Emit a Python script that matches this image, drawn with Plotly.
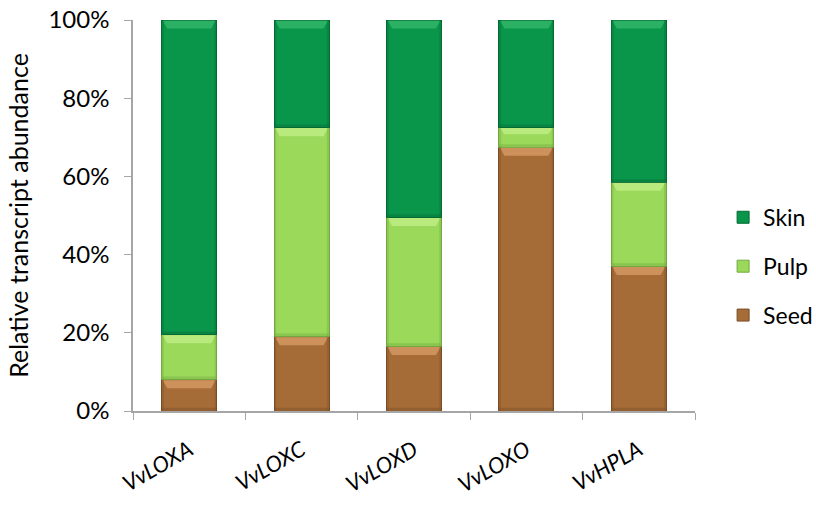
import plotly.graph_objects as go

genes = ["VvLOXA", "VvLOXC", "VvLOXD", "VvLOXO", "VvHPLA"]
seed = [8.0, 19.0, 16.5, 67.5, 37.0]
pulp = [11.5, 53.5, 33.0, 5.0, 21.5]
skin = [80.5, 27.5, 50.5, 27.5, 41.5]
yticks = [0, 20, 40, 60, 80, 100]
ytick_labels = ["0%", "20%", "40%", "60%", "80%", "100%"]

# name, values, fill, outline, bevel highlight, legend rank
series = [
    ("Seed", seed, "#A66C38", "#7A4E26", "#EDB07A", 3),
    ("Pulp", pulp, "#9AD95A", "#72A842", "#D2F79A", 2),
    ("Skin", skin, "#09954A", "#056B34", "#45C878", 1),
]

BARGAP = 0.51
half = (1 - BARGAP) / 2

fig = go.Figure()
shapes = []
base = [0.0] * len(genes)
for name, vals, color, edge, hi, rank in series:
    fig.add_trace(go.Bar(
        x=genes, y=vals, name=name,
        marker=dict(color=color, line=dict(color=edge, width=1)),
        legendgroup=name, legendrank=rank,
    ))
    # bevelled top edge of every segment
    for i, v in enumerate(vals):
        top = base[i] + v
        h = min(2.2, v * 0.35)
        inset = 0.05
        shapes.append(dict(
            type="path", xref="x", yref="y", layer="above",
            path=(f"M {i - half + 0.01} {top - 0.15} L {i + half - 0.01} {top - 0.15} "
                  f"L {i + half - inset} {top - h} L {i - half + inset} {top - h} Z"),
            fillcolor=hi, opacity=0.55, line=dict(width=0),
        ))
        # darker sides
        for sx0, sx1 in ((i - half, i - half + 0.02), (i + half - 0.02, i + half)):
            shapes.append(dict(
                type="rect", xref="x", yref="y", layer="above",
                x0=sx0, x1=sx1, y0=base[i], y1=top,
                fillcolor=edge, opacity=0.35, line=dict(width=0),
            ))
        # darker bottom edge
        hb = min(0.8, v * 0.15)
        shapes.append(dict(
            type="rect", xref="x", yref="y", layer="above",
            x0=i - half, x1=i + half, y0=base[i], y1=base[i] + hb,
            fillcolor=edge, opacity=0.4, line=dict(width=0),
        ))
        base[i] = top

fig.update_layout(
    barmode="stack",
    bargap=BARGAP,
    width=816, height=506,
    margin=dict(l=133, r=121, t=20, b=95, autoexpand=False),
    plot_bgcolor="white", paper_bgcolor="white",
    font=dict(family="Lato, Open Sans, sans-serif", size=24, color="black"),
    showlegend=True,
    shapes=shapes,
    legend=dict(
        traceorder="grouped", x=1.05, xanchor="left", y=0.37, yanchor="middle",
        font=dict(size=23), tracegroupgap=16, itemwidth=30,
        bgcolor="rgba(0,0,0,0)",
    ),
    yaxis=dict(
        range=[0, 100], tickvals=yticks, ticktext=ytick_labels, automargin=False,
        showgrid=False, showline=True, linecolor="#A6A6A6", linewidth=1.5,
        ticks="outside", ticklen=7, tickcolor="#A6A6A6", zeroline=False,
        tickfont=dict(size=24), ticklabelstandoff=10,
        title=dict(text="Relative transcript abundance", font=dict(size=25), standoff=13),
    ),
    xaxis=dict(
        automargin=False,
        showline=True, linecolor="#A6A6A6", linewidth=1.5,
        ticks="outside", ticklen=7, tickcolor="#A6A6A6", tickson="boundaries",
        tickangle=-30, tickfont=dict(size=22, style="italic"), ticklabelstandoff=16,
        showgrid=False,
    ),
)

fig.write_html("out.html")
